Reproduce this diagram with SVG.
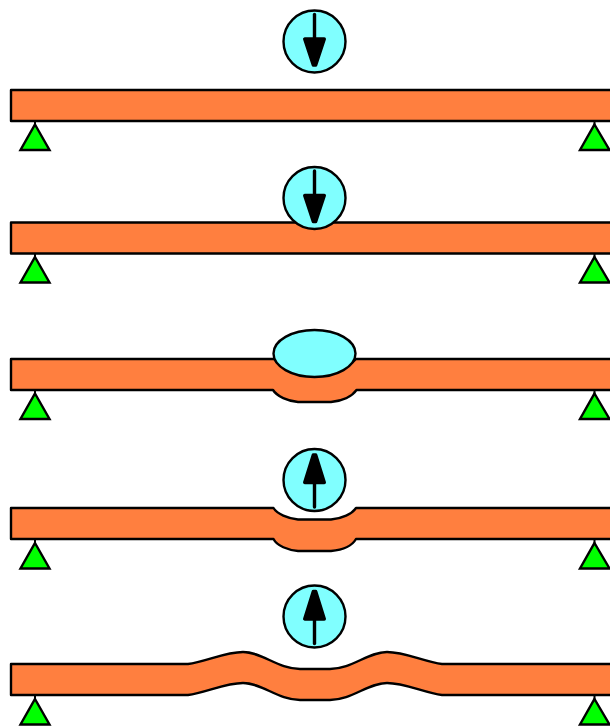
<svg xmlns="http://www.w3.org/2000/svg" xmlns:xlink="http://www.w3.org/1999/xlink" width="610" height="727" viewBox="0 0 610 727">
  <style>
    .beam { fill: #ff7f3f; stroke: #000; stroke-width: 2.4; stroke-linejoin: round; }
    .drop { fill: #80ffff; stroke: #000; stroke-width: 2.4; }
    .support { fill: #00ff00; stroke: #000; stroke-width: 2.4; stroke-linejoin: miter; }
    .shaft { stroke: #000; stroke-width: 3.4; stroke-linecap: round; fill: none; }
    .head { fill: #000; stroke: #000; stroke-width: 3.4; stroke-linejoin: round; }
  </style>
  <defs>
    <!-- Support pair, origin on the beam's lower edge -->
    <g id="supports">
      <path class="support" d="M35 3.500 L49.500 29 L20.500 29 Z"/>
      <path class="support" d="M594.500 3.500 L609.500 29 L580 29 Z"/>
      <path d="M35 0 V4 M594.500 0 V4" stroke="#000" stroke-width="2"/>
    </g>
    <!-- Falling drop, origin at the circle's centre -->
    <g id="drop-down">
      <circle class="drop" r="31"/>
      <path class="shaft" d="M0 -27 V0"/>
      <path class="head" d="M-9.800 -2.500 H9.800 L1.200 23.500 H-1.200 Z"/>
    </g>
    <!-- Rebounding drop, origin at the circle's centre -->
    <g id="drop-up">
      <circle class="drop" r="31"/>
      <path class="shaft" d="M0 27 V0"/>
      <path class="head" d="M-9.800 2.500 H9.800 L1.200 -25 H-1.200 Z"/>
    </g>
  </defs>

  <g id="stage-1">
    <rect class="beam" x="11" y="90" width="601" height="31"/>
    <use href="#supports" y="121"/>
    <use href="#drop-down" x="314.500" y="41.500"/>
  </g>

  <g id="stage-2">
    <rect class="beam" x="11" y="222.500" width="601" height="31"/>
    <use href="#supports" y="253.500"/>
    <use href="#drop-down" x="314.500" y="198"/>
  </g>

  <g id="stage-3">
    <path class="beam" d="M11 359 H274 C284 370 300 374 315 374 C330 374 346 370 356 359 H612 V390 H356.500 C352 396.500 342 401 331 402 H298 C288 401 277 396.500 273 390 H11 Z"/>
    <use href="#supports" y="390"/>
    <ellipse id="flattened-drop" class="drop" cx="314.500" cy="353.500" rx="41" ry="23.500"/>
  </g>

  <g id="stage-4">
    <path class="beam" d="M11 508 H273.500 C277 514 288 518.500 298 519.500 H331 C342 518.500 352 514 356 508 H612 V539 H356 C352 546 342 550 331 551 H298 C288 550 277 546 273.500 539 H11 Z"/>
    <use href="#supports" y="539.500"/>
    <use href="#drop-up" x="314.500" y="480"/>
  </g>

  <g id="stage-5">
    <path class="beam" d="M11 664 H188 C205 662 225 652 243 652 C262 652 278 669 300 669 H330 C352 669 368 652 387 652 C405 652 425 662 442 664 H612 V695 H442 C425 693 405 683 387 683 C368 683 352 700 330 700 H300 C278 700 262 683 243 683 C225 683 205 693 188 695 H11 Z"/>
    <use href="#supports" y="695.500"/>
    <use href="#drop-up" x="314.500" y="616.500"/>
  </g>
</svg>
